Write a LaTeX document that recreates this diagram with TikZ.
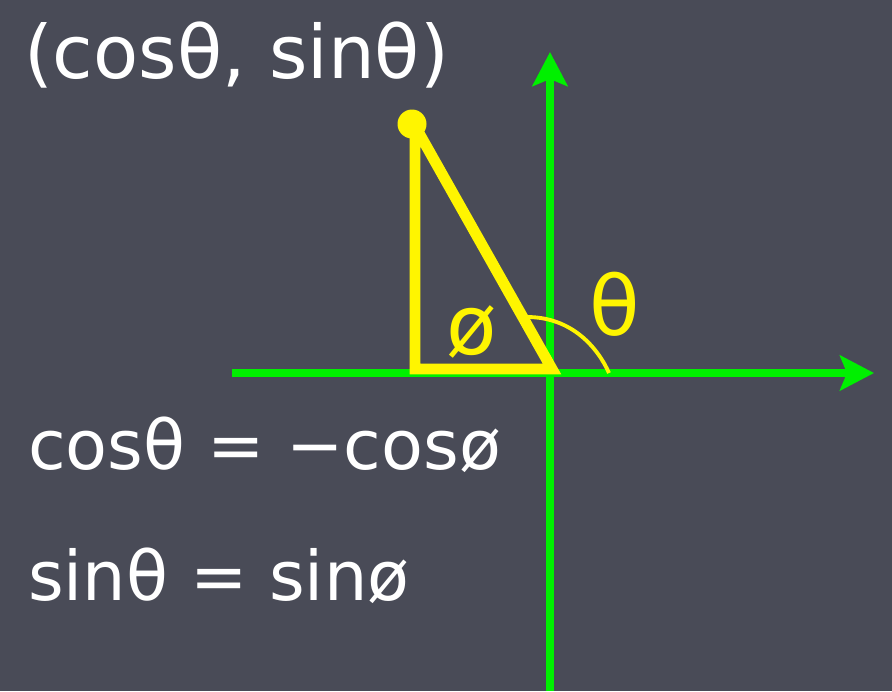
\documentclass[tikz,border=0pt]{standalone}
\usepackage{fontspec}
\setmainfont{DejaVu Sans}
\usetikzlibrary{arrows.meta}
\definecolor{slate}{HTML}{494B57}
\definecolor{axisgreen}{HTML}{00F000}
\definecolor{triyellow}{HTML}{FFF500}

\begin{document}
\begin{tikzpicture}[
  x=0.02cm, y=-0.02cm,
  axis/.style={-{Stealth[length=6.8mm, width=7mm, inset=1.4mm]}, draw=axisgreen, line width=4.4pt},
  tri/.style={draw=triyellow, line width=6.2pt, line join=miter, miter limit=2},
  anglearc/.style={draw=triyellow, line width=2.2pt},
  dot/.style={circle, fill=triyellow, minimum size=0.58cm, inner sep=0pt},
  eqtext/.style={anchor=west, text=white, font=\fontsize{39}{42}\selectfont},
  anglabel/.style={text=triyellow, font=\fontsize{47}{50}\selectfont}
]
  \fill[slate] (0,0) rectangle (892,691);
  \useasboundingbox (0,0) rectangle (892,691);
  % axes
  \coordinate (xs) at (232,373);
  \coordinate (xe) at (874,373);
  \coordinate (ys) at (550,691);
  \coordinate (ye) at (550,52);
  \draw[axis] (xs) -- (xe);
  \draw[axis] (ys) -- (ye);
  % triangle
  \coordinate (O) at (552,369);
  \coordinate (foot) at (415,369);
  \coordinate (P) at (415,126);
  \draw[tri] (P) -- (foot) -- (O) -- cycle;
  \node[dot] (pt) at (412,124) {};
  \coordinate (a1) at (527,317);
  \coordinate (a2) at (609,373);
  \draw[anglearc] (a1) .. controls (572,317) and (598,348) .. (a2);
  \node[anglabel] (theta) at (615,304) {θ};
  \node[anglabel] (phi) at (472,332) {ø};
  % labels
  \node[eqtext, font=\fontsize{42}{45}\selectfont] (point) at (18,55) {(cosθ, sinθ)};
  \node[eqtext] (coseq) at (22,445) {cosθ = −cosø};
  \node[eqtext] (sineq) at (22,576) {sinθ = sinø};
\end{tikzpicture}
\end{document}
